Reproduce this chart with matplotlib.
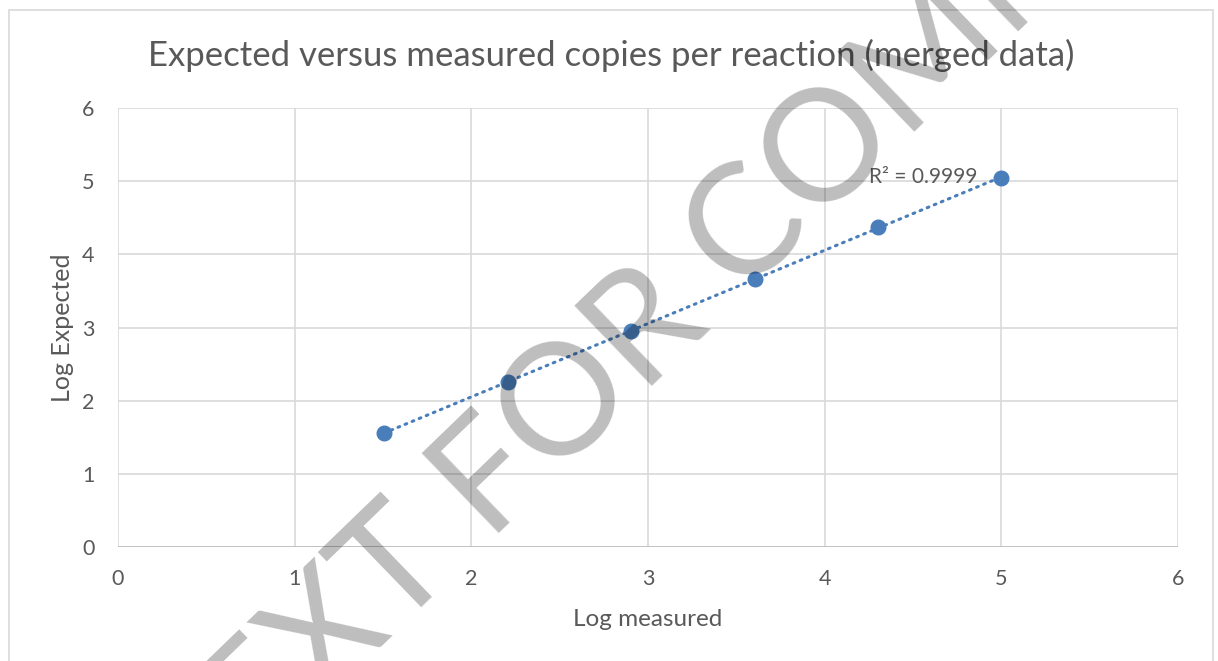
import numpy as np
import matplotlib
matplotlib.use("Agg")
import matplotlib.pyplot as plt
from matplotlib.patches import Rectangle

# values
log_measured = [1.505, 2.207, 2.903, 3.605, 4.301, 4.997]
log_expected = [1.558, 2.255, 2.952, 3.663, 4.373, 5.043]
ticks = [0, 1, 2, 3, 4, 5, 6]
title = "Expected versus measured copies per reaction (merged data)"
r2_label = "R² = 0.9999"
watermark = "TEXT FOR COMMENT"

BLUE = "#4a7ebb"
TXT = "#595959"
GRID = "#d9d9d9"

plt.rcParams['font.family'] = ['Lato', 'DejaVu Sans']

fig = plt.figure(figsize=(12.18, 6.61), dpi=100)
ax = fig.add_axes([118/1218, 1 - 547/661, 1060/1218, 439/661])

# outer chart frame
fig.add_artist(Rectangle((9/1218, -0.05), 1204/1218, 1 - 10/661 + 0.05,
                         transform=fig.transFigure, fill=False,
                         edgecolor=GRID, linewidth=1.2))

ax.set_xlim(0, 6)
ax.set_ylim(0, 6)
ax.set_xticks(ticks)
ax.set_yticks(ticks)
ax.grid(True, color=GRID, linewidth=1.2)
ax.set_axisbelow(True)
for s in ax.spines.values():
    s.set_visible(False)
ax.axhline(0, color="#bfbfbf", linewidth=1.3, zorder=1)
ax.tick_params(length=0, labelsize=15.5, colors=TXT)
ax.tick_params(axis='x', pad=16)
ax.tick_params(axis='y', pad=17)

# linear trendline
k, b = np.polyfit(log_measured, log_expected, 1)
xs = np.array([min(log_measured), max(log_measured)])
ax.plot(xs, k * xs + b, linestyle=(0, (0.6, 1.9)), color=BLUE,
        linewidth=2.2, dash_capstyle='round', zorder=2)
ax.plot(log_measured, log_expected, 'o', color=BLUE, markersize=10.5, zorder=3)

ax.annotate(r2_label, (log_measured[-1], log_expected[-1]),
            xytext=(-17, 1), textcoords='offset points',
            ha='right', va='center', fontsize=15, color=TXT)

ax.set_xlabel("Log measured", fontsize=17.5, color=TXT, labelpad=14)
ax.set_ylabel("Log Expected", fontsize=18, color=TXT, labelpad=6)
fig.text(0.5016, 1 - 55/661, title, ha='center', va='center',
         fontsize=25, color=TXT)

# diagonal watermark over the chart
fig.text(730/1218, 1 - 250/661, watermark, rotation=44,
         rotation_mode='anchor', ha='center', va='center',
         fontsize=112, color='black', alpha=0.26)

fig.savefig("out.png", dpi=100)
